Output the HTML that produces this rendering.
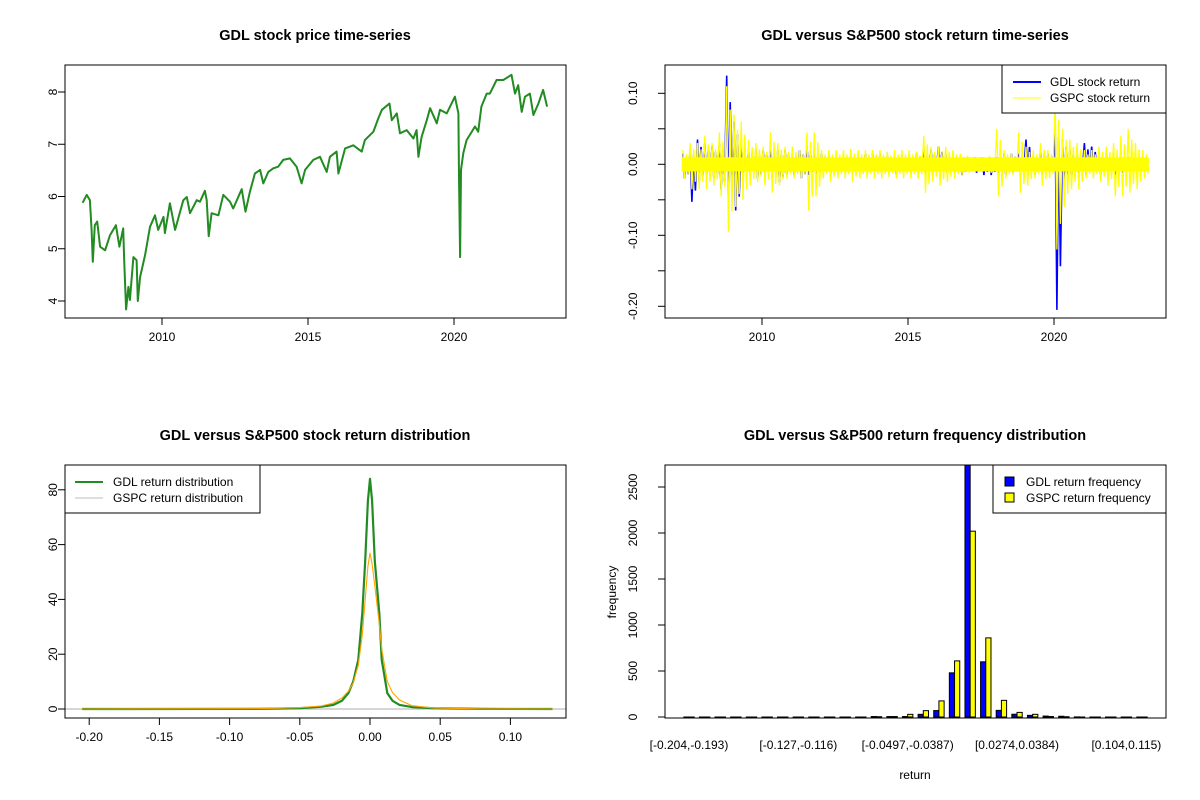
<!DOCTYPE html>
<html>
<head>
<meta charset="utf-8">
<style>
  html,body{margin:0;padding:0;background:#fff;}
  svg{display:block;font-family:"Liberation Sans",Arial,sans-serif;}
  .t{font-weight:bold;font-size:14.5px;text-anchor:middle;}
  .lab{font-size:12px;fill:#000;}
</style>
</head>
<body>
<svg id="root" width="1200" height="800" viewBox="0 0 1200 800" xmlns="http://www.w3.org/2000/svg">
  <rect width="1200" height="800" fill="#fff"/>
</svg>
<script>
// ===== Panel 1: price =====
const priceYears = [2007.28,2007.42,2007.53,2007.59,2007.63,2007.70,2007.78,2007.88,2008.05,2008.22,2008.42,2008.54,2008.67,2008.71,2008.77,2008.85,2008.90,2009.02,2009.13,2009.17,2009.25,2009.42,2009.59,2009.76,2009.87,2010.05,2010.10,2010.27,2010.45,2010.73,2010.85,2010.96,2011.19,2011.30,2011.47,2011.53,2011.60,2011.70,2011.93,2012.10,2012.33,2012.44,2012.73,2012.86,2013.01,2013.18,2013.36,2013.47,2013.64,2013.81,2013.98,2014.15,2014.38,2014.61,2014.78,2014.90,2015.18,2015.41,2015.64,2015.75,2015.98,2016.04,2016.27,2016.55,2016.84,2016.95,2017.24,2017.41,2017.53,2017.79,2017.87,2018.04,2018.15,2018.38,2018.61,2018.72,2018.78,2018.89,2019.07,2019.18,2019.41,2019.52,2019.75,2020.03,2020.15,2020.17,2020.21,2020.24,2020.32,2020.43,2020.72,2020.83,2020.94,2021.12,2021.23,2021.46,2021.69,2021.97,2022.09,2022.20,2022.32,2022.43,2022.60,2022.72,2022.89,2023.05,2023.19];
const prices = [5.88,6.03,5.93,5.36,4.75,5.45,5.52,5.04,4.97,5.26,5.45,5.04,5.39,4.72,3.84,4.27,4.02,4.84,4.78,4.00,4.46,4.88,5.42,5.64,5.36,5.61,5.30,5.87,5.36,5.93,5.99,5.68,5.93,5.90,6.11,5.93,5.24,5.68,5.64,6.03,5.90,5.77,6.14,5.71,6.09,6.44,6.51,6.25,6.47,6.54,6.57,6.70,6.73,6.57,6.25,6.51,6.70,6.76,6.47,6.76,6.86,6.44,6.92,6.98,6.86,7.08,7.24,7.50,7.66,7.78,7.46,7.59,7.21,7.27,7.11,7.27,6.76,7.14,7.46,7.69,7.40,7.66,7.59,7.91,7.59,6.38,4.84,6.51,6.83,7.08,7.34,7.24,7.72,7.97,7.97,8.23,8.23,8.33,7.97,8.13,7.62,7.91,7.97,7.56,7.78,8.04,7.72];
const priceTicks = [4,5,6,7,8];
const yearTicks = [2010,2015,2020];

// ===== Panel 2: returns (quarterly high / low) =====
const retStart = 2007.25;
const gspcHi = [0.02,0.03,0.03, 0.04,0.03,0.045,0.11, 0.07,0.06,0.035,0.03, 0.025,0.045,0.03,0.025, 0.025,0.02,0.045,0.045, 0.02,0.02,0.02,0.02, 0.022,0.02,0.02,0.02, 0.02,0.018,0.02,0.02, 0.02,0.018,0.04,0.025, 0.025,0.025,0.02,0.015, 0.012,0.01,0.01,0.012, 0.05,0.02,0.015,0.045, 0.025,0.02,0.03,0.02, 0.09,0.05,0.035,0.03, 0.02,0.02,0.025,0.025, 0.03,0.04,0.05,0.03, 0.02];
const gspcLo = [-0.02,-0.035,-0.035, -0.035,-0.03,-0.045,-0.095, -0.06,-0.05,-0.03,-0.025, -0.03,-0.04,-0.03,-0.02, -0.02,-0.02,-0.065,-0.045, -0.02,-0.025,-0.02,-0.02, -0.025,-0.02,-0.02,-0.02, -0.02,-0.018,-0.02,-0.02, -0.02,-0.02,-0.04,-0.025, -0.03,-0.025,-0.02,-0.015, -0.012,-0.01,-0.01,-0.012, -0.045,-0.02,-0.015,-0.04, -0.03,-0.02,-0.03,-0.02, -0.12,-0.06,-0.035,-0.035, -0.02,-0.02,-0.025,-0.03, -0.045,-0.045,-0.04,-0.035, -0.02];
const gdlHi = [0.015,0.02,0.035, 0.03,0.025,0.03,0.125, 0.06,0.03,0.02,0.02, 0.02,0.025,0.02,0.02, 0.015,0.02,0.025,0.015, 0.015,0.012,0.01,0.01, 0.012,0.012,0.015,0.015, 0.015,0.012,0.012,0.012, 0.01,0.015,0.02,0.02, 0.025,0.015,0.012,0.01, 0.01,0.01,0.01,0.01, 0.01,0.015,0.015,0.015, 0.035,0.012,0.02,0.015, 0.055,0.035,0.02,0.015, 0.03,0.025,0.015,0.015, 0.01,0.01,0.01,0.01, 0.01];
const gdlLo = [-0.02,-0.053,-0.025, -0.02,-0.02,-0.035,-0.055, -0.065,-0.02,-0.015,-0.02, -0.015,-0.02,-0.025,-0.015, -0.015,-0.02,-0.015,-0.015, -0.01,-0.015,-0.012,-0.01, -0.01,-0.01,-0.01,-0.012, -0.012,-0.012,-0.015,-0.012, -0.01,-0.012,-0.015,-0.015, -0.01,-0.015,-0.012,-0.015, -0.01,-0.012,-0.015,-0.015, -0.015,-0.015,-0.012,-0.01, -0.015,-0.015,-0.015,-0.01, -0.205,-0.03,-0.02,-0.012, -0.015,-0.012,-0.015,-0.01, -0.015,-0.012,-0.01,-0.01, -0.01];
const retTicks = [-0.20,-0.15,-0.10,-0.05,0.00,0.05,0.10];
const retTickLabels = ["-0.20","","-0.10","","0.00","","0.10"];

// ===== Panel 3: densities =====
const densX = [-0.205,-0.08,-0.05,-0.035,-0.026,-0.02,-0.0154,-0.012,-0.0083,-0.0055,-0.0034,-0.0015,0,0.0015,0.0034,0.0066,0.0083,0.0123,0.016,0.021,0.03,0.045,0.08,0.13];
const gdlDens = [0,0.05,0.3,0.8,1.5,3,5.8,10,18,35,54,76,84,76,54,35,18,5.8,3,1.5,0.7,0.3,0.05,0];
const gspcDens = [0,0.1,0.5,1.1,2.2,4,6.5,9.5,16,27,40,52,57,53,45,31,22,10,6,3.3,1.2,0.4,0.05,0];
const densXTicks = [-0.20,-0.15,-0.10,-0.05,0.00,0.05,0.10];
const densXLabels = ["-0.20","-0.15","-0.10","-0.05","0.00","0.05","0.10"];
const densYTicks = [0,20,40,60,80];

// ===== Panel 4: histogram =====
const binLabels = ["[-0.204,-0.193)","","","","","","","[-0.127,-0.116)","","","","","","","[-0.0497,-0.0387)","","","","","","","[0.0274,0.0384)","","","","","","","[0.104,0.115)",""];
const gdlFreq = [0,0,0,0,0,0,0,0,0,0,0,0,5,5,5,29,70,480,2760,600,72,30,18,10,8,1,0,0,0,0];
const gspcFreq = [0,0,0,0,0,0,0,0,0,0,0,0,3,5,29,69,175,610,2020,860,181,50,29,5,3,0,0,0,0,0];
const freqTicks = [0,500,1000,1500,2000,2500];

const NS="http://www.w3.org/2000/svg";
const root=document.getElementById('root');
function mk(tag,attrs,parent){const e=document.createElementNS(NS,tag);for(const k in attrs)e.setAttribute(k,attrs[k]);(parent||root).appendChild(e);return e;}
function txt(s,x,y,attrs,parent){const e=mk('text',Object.assign({x:x,y:y,class:'lab'},attrs||{}),parent);e.textContent=s;return e;}
function group(name){const g=mk('g',{});return g;}

// ---------- Panel 1 ----------
(function(){
  const L=65,R=566,T=65,B=318;
  const sx=y=>162+(y-2010)*29.2;
  const sy=v=>92+(8-v)*52.25;
  const g=group('price-panel');
  const ti=txt('GDL stock price time-series',315,40,{class:'t'},g);
  
  let d='';priceYears.forEach((y,i)=>{d+=(i?'L':'M')+sx(y).toFixed(1)+','+sy(prices[i]).toFixed(1);});
  const p=mk('path',{d:d,fill:'none',stroke:'#228B22','stroke-width':2,'stroke-linejoin':'round'},g);
  
  const f=mk('rect',{x:L,y:T,width:R-L,height:B-T,fill:'none',stroke:'#000','stroke-width':1},g);
  
  const ax=group('price-x-axis');
  yearTicks.forEach(y=>{const x=sx(y);mk('line',{x1:x,x2:x,y1:B,y2:B+7,stroke:'#000'},ax);txt(String(y),x,341,{'text-anchor':'middle'},ax);});
  mk('line',{x1:sx(2010),x2:sx(2020),y1:B,y2:B,stroke:'#000'},ax);
  const ay=group('price-y-axis');
  priceTicks.forEach(v=>{const y=sy(v);mk('line',{x1:L-7,x2:L,y1:y,y2:y,stroke:'#000'},ay);txt(String(v),57,y,{'text-anchor':'middle',transform:'rotate(-90 57 '+y+')'},ay);});
})();

// ---------- Panel 2 ----------
(function(){
  const L=665,R=1166,T=65,B=318;
  const sx=y=>762+(y-2010)*29.2;
  const sy=v=>164.3-v*710;
  const g=group('return-panel');
  const ti=txt('GDL versus S&P500 stock return time-series',915,40,{class:'t'},g);
  
  function zig(hi,lo){let d='';hi.forEach((h,i)=>{const t=retStart+i*0.25;d+=(i?'L':'M')+sx(t+0.04).toFixed(1)+','+sy(h).toFixed(1);d+='L'+sx(t+0.1).toFixed(1)+','+sy(lo[i]).toFixed(1);d+='L'+sx(t+0.16).toFixed(1)+','+sy(h*0.7).toFixed(1);d+='L'+sx(t+0.22).toFixed(1)+','+sy(lo[i]*0.7).toFixed(1);});return d;}
  const b=mk('path',{d:zig(gdlHi,gdlLo),fill:'none',stroke:'#0000FF','stroke-width':1.6},g);
  
  const yg=group('gspc-return-series');g.appendChild(yg);
  let dcore='';gspcHi.forEach((h,i)=>{const t=retStart+i*0.25;dcore+=(i?'L':'M')+sx(t).toFixed(1)+','+sy(Math.min(h,0.010)).toFixed(1)+'L'+sx(t+0.25).toFixed(1)+','+sy(Math.min(h,0.010)).toFixed(1);});
  for(let i=gspcLo.length-1;i>=0;i--){const t=retStart+i*0.25;dcore+='L'+sx(t+0.25).toFixed(1)+','+sy(Math.max(gspcLo[i],-0.010)).toFixed(1)+'L'+sx(t).toFixed(1)+','+sy(Math.max(gspcLo[i],-0.010)).toFixed(1);}
  mk('path',{d:dcore+'Z',fill:'#FFFF00',stroke:'none'},yg);
  const yl=mk('path',{d:zig(gspcHi,gspcLo),fill:'none',stroke:'#FFFF00','stroke-width':1.3},yg);
  
  const f=mk('rect',{x:L,y:T,width:R-L,height:B-T,fill:'none',stroke:'#000'},g);
  
  const ax=group('return-x-axis');
  yearTicks.forEach(y=>{const x=sx(y);mk('line',{x1:x,x2:x,y1:B,y2:B+7,stroke:'#000'},ax);txt(String(y),x,341,{'text-anchor':'middle'},ax);});
  mk('line',{x1:sx(2010),x2:sx(2020),y1:B,y2:B,stroke:'#000'},ax);
  const ay=group('return-y-axis');
  retTicks.forEach((v,i)=>{const y=sy(v);mk('line',{x1:L-7,x2:L,y1:y,y2:y,stroke:'#000'},ay);if(retTickLabels[i])txt(retTickLabels[i],637,y,{'text-anchor':'middle',transform:'rotate(-90 637 '+y+')'},ay);});
  mk('line',{x1:L,x2:L,y1:sy(0.10),y2:sy(-0.20),stroke:'#000'},ay);
  const lg=group('return-legend');
  mk('rect',{x:1002,y:65,width:164,height:48,fill:'#fff',stroke:'#000'},lg);
  mk('line',{x1:1013,x2:1041,y1:82,y2:82,stroke:'#0000FF','stroke-width':2},lg);
  txt('GDL stock return',1050,86,{},lg);
  mk('line',{x1:1013,x2:1041,y1:98,y2:98,stroke:'#FFFF00','stroke-width':1},lg);
  txt('GSPC stock return',1050,102,{},lg);
})();

// ---------- Panel 3 ----------
(function(){
  const L=65,R=566,T=465,B=718;
  const sx=v=>370+v*1404;
  const sy=v=>709-v*2.74;
  const g=group('density-panel');
  const ti=txt('GDL versus S&P500 stock return distribution',315,440,{class:'t'},g);
  
  mk('line',{x1:L,x2:R,y1:sy(0),y2:sy(0),stroke:'#BEBEBE','stroke-width':1.2},g);
  function path(ys){let d='';densX.forEach((x,i)=>{d+=(i?'L':'M')+sx(x).toFixed(1)+','+sy(ys[i]).toFixed(1);});return d;}
  const gl=mk('path',{d:path(gdlDens),fill:'none',stroke:'#228B22','stroke-width':2.2,'stroke-linejoin':'round'},g);
  
  const sl=mk('path',{d:path(gspcDens),fill:'none',stroke:'#FFA500','stroke-width':1.1},g);
  
  const f=mk('rect',{x:L,y:T,width:R-L,height:B-T,fill:'none',stroke:'#000'},g);
  
  const ax=group('density-x-axis');
  densXTicks.forEach((v,i)=>{const x=sx(v);mk('line',{x1:x,x2:x,y1:B,y2:B+7,stroke:'#000'},ax);txt(densXLabels[i],x,741,{'text-anchor':'middle'},ax);});
  mk('line',{x1:sx(-0.2),x2:sx(0.1),y1:B,y2:B,stroke:'#000'},ax);
  const ay=group('density-y-axis');
  densYTicks.forEach(v=>{const y=sy(v);mk('line',{x1:L-7,x2:L,y1:y,y2:y,stroke:'#000'},ay);txt(String(v),57,y,{'text-anchor':'middle',transform:'rotate(-90 57 '+y+')'},ay);});
  const lg=group('density-legend');
  mk('rect',{x:65,y:465,width:195,height:48,fill:'#fff',stroke:'#000'},lg);
  mk('line',{x1:75,x2:103,y1:482,y2:482,stroke:'#228B22','stroke-width':2},lg);
  txt('GDL return distribution',113,486,{},lg);
  mk('line',{x1:75,x2:103,y1:498,y2:498,stroke:'#BEBEBE','stroke-width':1},lg);
  txt('GSPC return distribution',113,502,{},lg);
})();

// ---------- Panel 4 ----------
(function(){
  const L=665,R=1166,T=465,B=718;
  const cx=k=>689+15.62*k;
  const sy=v=>717-v*0.092;
  const bw=5.2;
  const g=group('histogram-panel');
  const ti=txt('GDL versus S&P500 return frequency distribution',915,440,{class:'t'},g);
  
  const clip=mk('clipPath',{id:'hclip'},g);mk('rect',{x:L,y:T,width:R-L,height:B-T},clip);
  const bars=mk('g',{'clip-path':'url(#hclip)'},g);
  gdlFreq.forEach((v,k)=>{const y=sy(v);const r=mk('rect',{x:cx(k)-bw,y:y,width:bw,height:Math.max(717-y,0.01),fill:'#0000FF',stroke:'#000','stroke-width':1},bars);
    
    });
  gspcFreq.forEach((v,k)=>{const y=sy(v);const r=mk('rect',{x:cx(k),y:y,width:bw,height:Math.max(717-y,0.01),fill:'#FFFF00',stroke:'#000','stroke-width':1},bars);
    
    });
  const f=mk('rect',{x:L,y:T,width:R-L,height:B-T,fill:'none',stroke:'#000'},g);
  
  const ax=group('histogram-x-axis');
  binLabels.forEach((s,k)=>{if(s)txt(s,cx(k),749,{'text-anchor':'middle'},ax);});
  const xt=txt('return',915,779,{'text-anchor':'middle'},ax);
  
  const ay=group('histogram-y-axis');
  freqTicks.forEach(v=>{const y=sy(v);mk('line',{x1:L-7,x2:L,y1:y,y2:y,stroke:'#000'},ay);txt(String(v),637,y,{'text-anchor':'middle',transform:'rotate(-90 637 '+y+')'},ay);});
  mk('line',{x1:L,x2:L,y1:sy(0),y2:sy(2500),stroke:'#000'},ay);
  const yt=txt('frequency',616,592,{'text-anchor':'middle',transform:'rotate(-90 616 592)'},ay);
  
  const lg=group('histogram-legend');
  mk('rect',{x:993,y:465,width:173,height:48,fill:'#fff',stroke:'#000'},lg);
  mk('rect',{x:1005,y:477,width:9,height:9,fill:'#0000FF',stroke:'#000'},lg);
  txt('GDL return frequency',1026,486,{},lg);
  mk('rect',{x:1005,y:493,width:9,height:9,fill:'#FFFF00',stroke:'#000'},lg);
  txt('GSPC return frequency',1026,502,{},lg);
})();
</script>
</body>
</html>
